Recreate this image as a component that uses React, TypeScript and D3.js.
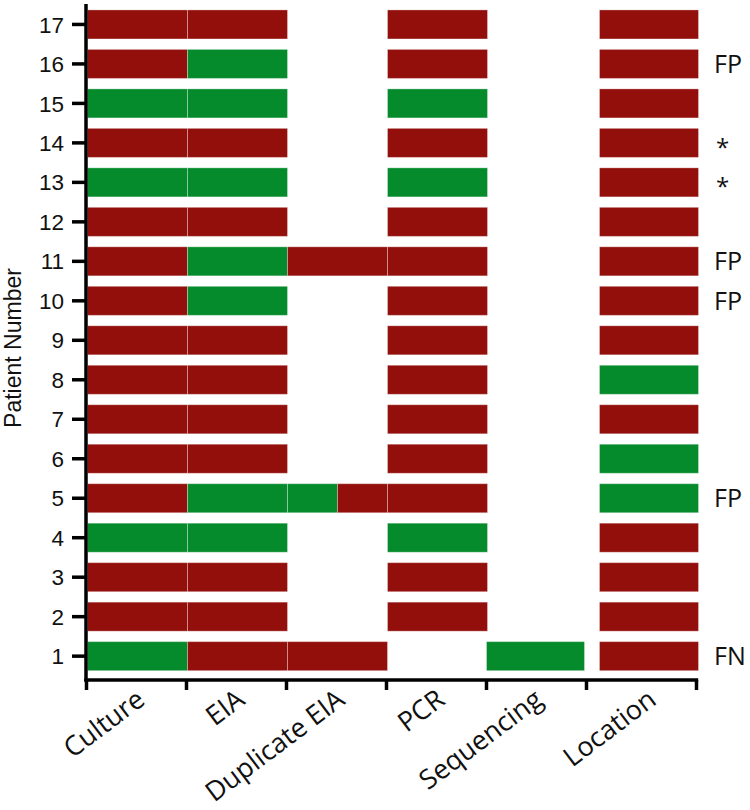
import React from "react";
import * as d3 from "d3";

const columns = ["Culture", "EIA", "Duplicate EIA", "PCR", "Sequencing", "Location"];
const patients = [17, 16, 15, 14, 13, 12, 11, 10, 9, 8, 7, 6, 5, 4, 3, 2, 1];
// r = positive (red), g = negative (green), "" = not done, "gr" = split half green / half red
const culture = ["r", "r", "g", "r", "g", "r", "r", "r", "r", "r", "r", "r", "r", "g", "r", "r", "g"];
const eia = ["r", "g", "g", "r", "g", "r", "g", "g", "r", "r", "r", "r", "g", "g", "r", "r", "r"];
const dupEia = ["", "", "", "", "", "", "r", "", "", "", "", "", "gr", "", "", "", "r"];
const pcr = ["r", "r", "g", "r", "g", "r", "r", "r", "r", "r", "r", "r", "r", "g", "r", "r", ""];
const sequencing = ["", "", "", "", "", "", "", "", "", "", "", "", "", "", "", "", "g"];
const location = ["r", "r", "r", "r", "r", "r", "r", "r", "r", "g", "r", "g", "g", "r", "r", "r", "r"];
const notes = ["", "FP", "", "*", "*", "", "FP", "FP", "", "", "", "", "FP", "", "", "", "FN"];

const RED = "#920f0b";
const GREEN = "#068b2c";

export default function App() {
  const W = 750, H = 810;
  const x0 = 87.5;
  const colW = 100;
  const gap = 12;
  const colStart = (i: number) => x0 + i * colW + (i === 5 ? gap : 0) - (i === 4 ? 1 : 0);
  const colEnd = (i: number) => x0 + (i + 1) * colW - (i === 4 ? 3 : 0) + (i === 5 ? gap - 1 : 0);
  const y = d3.scaleBand<number>().domain(patients).range([4.8, 675.8]).paddingInner(0.265).paddingOuter(0.13);
  const data = [culture, eia, dupEia, pcr, sequencing, location];
  const axisY = 680;
  const axisX = 86;
  const xTicks = [0, 1, 2, 3, 4, 5].map((i) => x0 + i * colW - 1).concat([colEnd(5) - 2]);
  const labelFont = "'Open Sans', 'Liberation Sans', Arial, sans-serif";
  const axisFont = "'Liberation Sans', Arial, sans-serif";

  const cells: React.ReactNode[] = [];
  patients.forEach((p, ri) => {
    data.forEach((col, ci) => {
      const v = col[ri];
      if (!v) return;
      const xs = colStart(ci), xe = colEnd(ci);
      const yy = y(p)!;
      const h = y.bandwidth();
      if (v === "gr") {
        const mid = (xs + xe) / 2;
        cells.push(<rect key={`${p}-${ci}-a`} x={xs} y={yy} width={mid - xs} height={h} fill={GREEN} stroke="rgba(255,255,255,0.3)" strokeWidth={1} />);
        cells.push(<rect key={`${p}-${ci}-b`} x={mid} y={yy} width={xe - mid} height={h} fill={RED} stroke="rgba(255,255,255,0.3)" strokeWidth={1} />);
      } else {
        cells.push(<rect key={`${p}-${ci}`} x={xs} y={yy} width={xe - xs} height={h} fill={v === "r" ? RED : GREEN} stroke="rgba(255,255,255,0.3)" strokeWidth={1} />);
      }
    });
  });

  return (
    <svg width={W} height={H} style={{ position: "absolute", left: 0, top: 0 }}>
      <rect width={W} height={H} fill="white" />
      {cells}
      {/* y axis */}
      <line x1={axisX} x2={axisX} y1={4} y2={axisY + 1.5} stroke="black" strokeWidth={3.5} />
      {patients.map((p) => {
        const cy = y(p)! + y.bandwidth() / 2;
        return (
          <g key={`yt-${p}`}>
            <line x1={axisX - 14} x2={axisX} y1={cy} y2={cy} stroke="black" strokeWidth={3.5} />
            <text x={axisX - 22} y={cy} dy="0.36em" textAnchor="end" fontFamily={axisFont} fontSize={22.5} fill="#111">{p}</text>
          </g>
        );
      })}
      {/* x axis */}
      <line x1={axisX - 1.7} x2={xTicks[6] + 1.7} y1={axisY} y2={axisY} stroke="black" strokeWidth={3.5} />
      {xTicks.map((t, i) => (
        <line key={`xt-${i}`} x1={t} x2={t} y1={axisY} y2={axisY + 10} stroke="black" strokeWidth={3.5} />
      ))}
      {columns.map((c, i) => {
        const cx = (colStart(i) + colEnd(i)) / 2 + 9;
        const cy = 703;
        return (
          <text key={`xl-${c}`} x={cx} y={cy} textAnchor="end" fontFamily={labelFont} fontSize={27} fill="#111" transform={`rotate(-37, ${cx}, ${cy})`}>{c}</text>
        );
      })}
      {/* notes */}
      {patients.map((p, ri) => notes[ri] ? (
        <text key={`n-${p}`} x={notes[ri] === "*" ? 716 : 714} y={y(p)! + y.bandwidth() / 2 + (notes[ri] === "*" ? 4 : 0)} dy="0.36em" fontFamily={labelFont} fontSize={notes[ri] === "*" ? 24 : 25} fill="#111">{notes[ri]}</text>
      ) : null)}
      <text x={0} y={0} transform={`translate(21, 348) rotate(-90)`} textAnchor="middle" fontFamily={axisFont} fontSize={23} fill="#111">Patient Number</text>
    </svg>
  );
}
